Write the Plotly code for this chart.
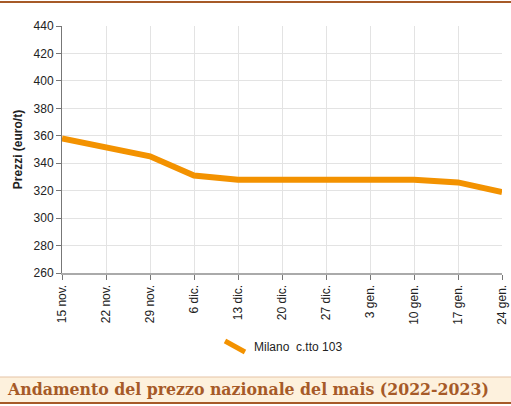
import plotly.graph_objects as go

dates = ["15 nov.", "22 nov.", "29 nov.", "6 dic.", "13 dic.", "20 dic.", "27 dic.",
         "3 gen.", "10 gen.", "17 gen.", "24 gen."]
milano = [358, 351, 345, 331, 328, 328, 328, 328, 328, 326, 319]
series_name = "Milano  c.tto 103"
y_ticks = list(range(260, 441, 20))

W, H = 511, 406
L, R, T, B = 62, 9, 26, 133
pw, ph = W - L - R, H - T - B

def px_x(x):
    return (x - L) / pw

def px_y(y):
    return (H - B - y) / ph

FONT = "Liberation Sans Narrow, Arial Narrow, sans-serif"
BROWN = "#a65a28"
ORANGE = "#f39200"

fig = go.Figure()
fig.add_trace(go.Scatter(
    x=list(range(len(dates))), y=milano, mode="lines", name=series_name,
    line=dict(color=ORANGE, width=6), showlegend=False, hoverinfo="skip",
))

fig.update_layout(
    width=W, height=H,
    margin=dict(l=L, r=R, t=T, b=B, autoexpand=False),
    plot_bgcolor="white", paper_bgcolor="white",
    font=dict(family=FONT, size=12, color="#222"),
    showlegend=False,
    xaxis=dict(
        tickmode="array", tickvals=list(range(len(dates))), ticktext=dates,
        range=[0, len(dates) - 1], tickangle=-90, automargin=False,
        showgrid=True, gridcolor="#e3e3e3", gridwidth=1,
        showline=True, linecolor="#aaaaaa", linewidth=2,
        ticks="outside", ticklen=5, tickcolor="#777",
        tickfont=dict(family=FONT, size=12, color="#222"),
        zeroline=False,
    ),
    yaxis=dict(
        range=[260, 440], tickvals=y_ticks, automargin=False,
        showgrid=True, gridcolor="#e3e3e3", gridwidth=1,
        showline=True, linecolor="#777777", linewidth=1,
        ticks="outside", ticklen=5, tickcolor="#777",
        tickfont=dict(family=FONT, size=12, color="#222"),
        title=dict(text="<b>Prezzi (euro/t)</b>", font=dict(family=FONT, size=12, color="#222"), standoff=8),
        zeroline=False,
    ),
)

shapes = [
    dict(type="line", xref="paper", yref="paper", x0=px_x(0), x1=px_x(W), y0=px_y(2), y1=px_y(2),
         line=dict(color=BROWN, width=2)),
    dict(type="rect", xref="paper", yref="paper", x0=px_x(0), x1=px_x(W), y0=px_y(377), y1=px_y(403),
         fillcolor="#fdf1dd", line=dict(width=0), layer="below"),
    dict(type="line", xref="paper", yref="paper", x0=px_x(0), x1=px_x(W), y0=px_y(377), y1=px_y(377),
         line=dict(color="#e5c3a5", width=1)),
    dict(type="line", xref="paper", yref="paper", x0=px_x(0), x1=px_x(W), y0=px_y(403), y1=px_y(403),
         line=dict(color=BROWN, width=2)),
    # legend sample
    dict(type="line", xref="paper", yref="paper", x0=px_x(225), x1=px_x(245), y0=px_y(341), y1=px_y(352),
         line=dict(color=ORANGE, width=5)),
]
fig.update_layout(shapes=shapes)
fig.add_annotation(
    xref="paper", yref="paper", x=px_x(252), y=px_y(347), xanchor="left", yanchor="middle",
    text=series_name.replace("  ", "&nbsp; "), showarrow=False,
    font=dict(family=FONT, size=12, color="#222"),
)
fig.add_annotation(
    xref="paper", yref="paper", x=px_x(5), y=px_y(389), xanchor="left", yanchor="middle",
    text="<b>Andamento del prezzo nazionale del mais (2022-2023)</b>", showarrow=False,
    font=dict(family="DejaVu Serif Condensed, DejaVu Serif, serif", size=17.5, color=BROWN),
)

fig.write_html("out.html", config={"displayModeBar": False},
               post_script="document.body.style.margin='0';document.body.style.overflow='hidden';")
